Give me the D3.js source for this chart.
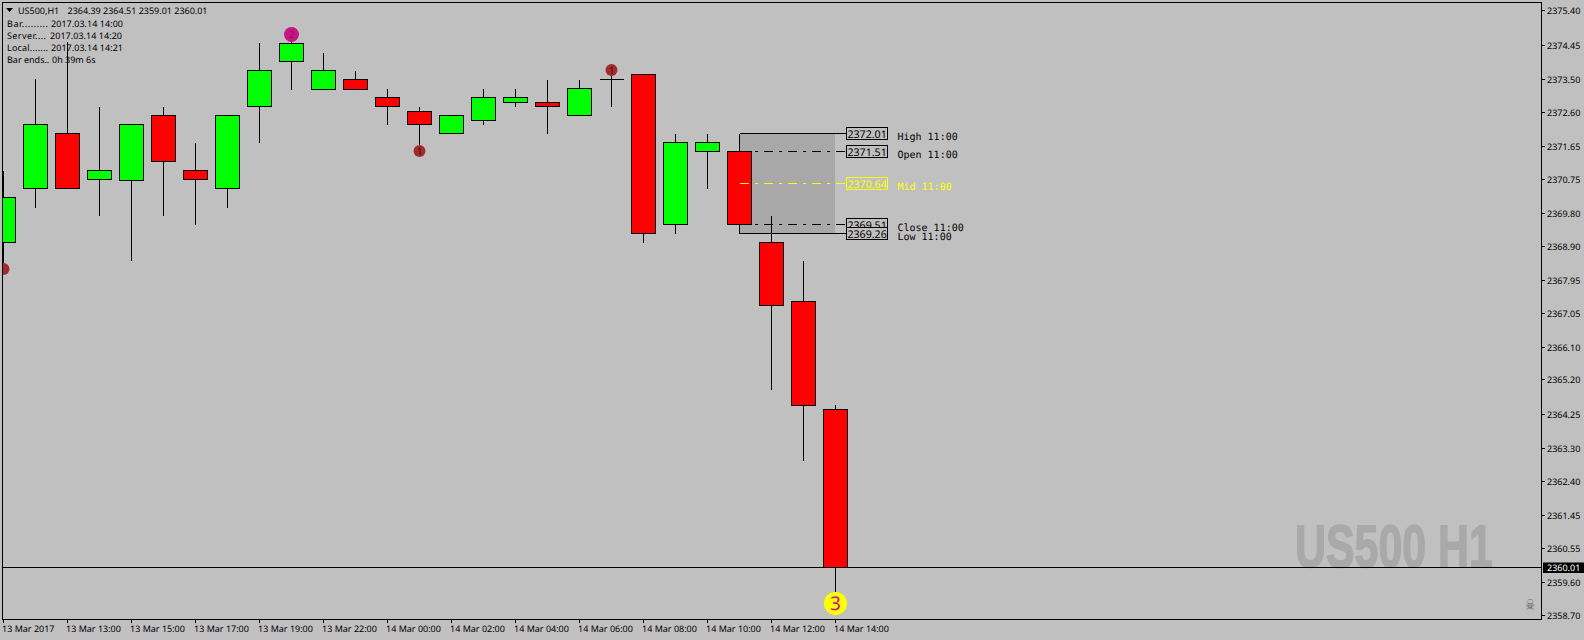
<!DOCTYPE html>
<html><head><meta charset="utf-8">
<script src="https://cdn.jsdelivr.net/npm/d3@7"></script>
<style>
html,body{margin:0;padding:0;background:#c0c0c0;overflow:hidden}
svg{display:block}
text{font-family:"Noto Sans",sans-serif;font-size:9px;fill:#000;text-rendering:geometricPrecision;white-space:pre}
.mono{font-family:"DejaVu Sans Mono",monospace;font-size:10px}
</style></head><body>
<svg id="c" width="1584" height="640"></svg>
<script>
const opens =[2369.00,2370.50,2372.01,2370.75,2370.72,2372.51,2371.00,2370.50,2372.76,2373.99,2373.24,2373.51,2373.01,2372.62,2372.01,2372.37,2372.87,2372.87,2372.51,2373.50,2373.65,2369.50,2371.51,2371.51,2369.00,2367.38,2364.39];
const highs =[2371.00,2373.53,2374.55,2372.76,2372.26,2372.76,2371.76,2372.51,2374.52,2374.75,2374.24,2373.76,2373.26,2372.76,2372.51,2373.26,2373.26,2373.51,2373.51,2373.90,2373.65,2372.01,2372.01,2372.01,2369.75,2368.51,2364.51];
const lows  =[2368.30,2369.97,2370.50,2369.75,2368.49,2369.75,2369.50,2369.97,2371.76,2373.24,2373.24,2373.24,2372.26,2371.51,2372.01,2372.26,2372.76,2372.01,2372.51,2372.75,2369.00,2369.25,2370.50,2369.26,2364.95,2362.97,2359.01];
const closes=[2370.25,2372.26,2370.50,2371.00,2372.26,2371.25,2370.75,2372.51,2373.74,2374.49,2373.76,2373.24,2372.76,2372.26,2372.51,2373.01,2373.01,2372.76,2373.26,2373.50,2369.25,2371.76,2371.76,2369.51,2367.26,2364.50,2360.01];
const priceTicks=["2375.40","2374.45","2373.50","2372.60","2371.65","2370.75","2369.80","2368.90","2367.95","2367.05","2366.10","2365.20","2364.25","2363.30","2362.40","2361.45","2360.55","2359.60","2358.70"];
const timeBars=[0,2,4,6,8,10,12,14,16,18,20,22,24,26];
const timeLabels=["13 Mar 2017","13 Mar 13:00","13 Mar 15:00","13 Mar 17:00","13 Mar 19:00","13 Mar 22:00","14 Mar 00:00","14 Mar 02:00","14 Mar 04:00","14 Mar 06:00","14 Mar 08:00","14 Mar 10:00","14 Mar 12:00","14 Mar 14:00"];
const levelNames=["High 11:00","Open 11:00","Mid 11:00","Close 11:00","Low 11:00"];
const levelValues=[2372.01,2371.51,2370.64,2369.51,2369.26];
const levelColors=["#000","#000","#ffff00","#000","#000"];
const levelDash=[null,"9,6,3,6","9,6,3,6","9,6,3,6",null];
const markerBars=[0,9,13,19,26];
const markerPrices=[2368.26,2374.74,2371.52,2373.76,2359.02];
const markerText=["1","2","1","1","3"];
const headerPrefix=["Bar.........","Server....","Local......."];
const headerDates=["2017.03.14 14:00","2017.03.14 14:20","2017.03.14 14:21"];
const barEnds=["Bar ends..","0h 39m 6s"];
const lastPrice=2360.01;

const L=2.5,R=1541.5,T=2.5,B=619.5;
const svg=d3.select("#c");
const x=d3.scaleLinear().domain([0,26]).range([3.5,835.5]);
const yRaw=d3.scaleLinear().domain([2358.59,2375.64]).range([619,2]);
const y=p=>Math.floor(yRaw(p)+0.2)+0.5;

svg.append("defs").append("clipPath").attr("id","plot").append("rect")
  .attr("x",L).attr("y",T).attr("width",R-L).attr("height",B-T);
const plot=svg.append("g").attr("clip-path","url(#plot)");

// watermark
plot.append("text").attr("transform","translate(1295,567) scale(0.715,1)").text("US500 H1")
  .style("font-family","'Liberation Sans',sans-serif").style("font-weight","bold")
  .style("font-size","60px").style("fill","#a9a9a9").style("stroke","#a9a9a9").style("stroke-width","1.5px");
// skull
plot.append("text").attr("transform","translate(1530,610) scale(0.72,1)").attr("text-anchor","middle").text("\u2620")
  .style("font-family","'DejaVu Sans'").style("font-size","15px").style("fill","#666");

// session box
const bx0=x(23), bx1=x(26)-0.5;
plot.append("rect").attr("x",bx0).attr("y",y(levelValues[0]))
  .attr("width",bx1-bx0).attr("height",y(levelValues[4])-y(levelValues[0]))
  .attr("fill","#a8a8a8");

// current price line
plot.append("line").attr("x1",L).attr("x2",R).attr("y1",y(lastPrice)).attr("y2",y(lastPrice)).attr("stroke","#000").attr("shape-rendering","crispEdges");

// candles
const idx=d3.range(opens.length);
const crisp=plot.append("g").attr("shape-rendering","crispEdges");
crisp.selectAll("line.w").data(idx).join("line").attr("class","w")
  .attr("x1",i=>x(i)).attr("x2",i=>x(i)).attr("y1",i=>y(highs[i])).attr("y2",i=>y(lows[i])+0.5).attr("stroke","#000");
crisp.selectAll("path.b").data(idx).join("path").attr("class","b")
  .attr("d",i=>{
    const p=d3.path(), t=y(Math.max(opens[i],closes[i])), b=y(Math.min(opens[i],closes[i]));
    p.rect(x(i)-12,t,24,b-t); return p.toString();
  })
  .attr("fill",i=>closes[i]>=opens[i]?"#00ff00":"#ff0000")
  .attr("stroke","#000");

// markers
const mColors=["#a52a2a","#c71585","#a52a2a","#a52a2a","#ffff00"];
const mR=[6,7.5,6,6,11.5];
const mText=["#a52a2a","#8a1a3a","#222","#222","#c71585"];
const mSize=[10,10,10,10,19];
markerBars.forEach((b,i)=>{
  const g=plot.append("g");
  const cy=yRaw(markerPrices[i]);
  g.append("circle").attr("cx",x(b)).attr("cy",cy).attr("r",mR[i]).attr("fill",mColors[i]);
  g.append("text").attr("x",x(b)).attr("y",cy+mSize[i]*0.36).attr("text-anchor","middle").text(markerText[i])
    .style("font-size",mSize[i]+"px").style("fill",mText[i]);
});

// level lines
const lv=svg.append("g");
levelValues.forEach((v,i)=>{
  lv.append("line").attr("x1",bx0).attr("x2",846.5).attr("y1",y(v)).attr("y2",y(v))
    .attr("stroke",levelColors[i]).attr("stroke-dasharray",levelDash[i]).attr("shape-rendering","crispEdges");
});
levelValues.forEach((v,i)=>{
  lv.append("rect").attr("x",846.5).attr("y",y(v)-6).attr("width",41).attr("height",12)
    .attr("fill","#c0c0c0").attr("stroke",levelColors[i]).attr("shape-rendering","crispEdges");
  lv.append("text").attr("x",847.5).attr("y",y(v)+4.5).text(v.toFixed(2))
    .style("font-size","10.6px").style("fill",levelColors[i]);
});
levelNames.forEach((n,i)=>{
  lv.append("text").attr("class","mono").attr("x",897.5).attr("y",y(levelValues[i])+6)
    .text(n).style("fill",levelColors[i]);
});

// frame
svg.append("rect").attr("x",L).attr("y",T).attr("width",R-L).attr("height",B-T)
  .attr("fill","none").attr("stroke","#000").attr("shape-rendering","crispEdges");

// price axis
const pa=svg.append("g");
priceTicks.forEach(t=>{
  const py=y(+t);
  pa.append("line").attr("x1",R).attr("x2",R+3).attr("y1",py).attr("y2",py).attr("stroke","#000").attr("shape-rendering","crispEdges");
  pa.append("text").attr("x",1547).attr("y",py+3.5).text(t);
});
pa.append("rect").attr("x",1543).attr("y",y(lastPrice)-5).attr("width",41).attr("height",10.5).attr("fill","#000");
pa.append("text").attr("x",1547).attr("y",y(lastPrice)+3.5).text(lastPrice.toFixed(2)).style("fill","#fff");

// time axis
const ta=svg.append("g");
timeBars.forEach((b,i)=>{
  ta.append("line").attr("x1",x(b)).attr("x2",x(b)).attr("y1",B).attr("y2",B+3).attr("stroke","#000").attr("shape-rendering","crispEdges");
  ta.append("text").attr("x",i==0?2:x(b)-1.5).attr("y",632).text(timeLabels[i]);
});

// header
svg.append("path").attr("d",d3.line()([[6,8],[13,8],[9.5,12]])+"Z").attr("fill","#000");
svg.append("text").attr("x",18).attr("y",14).text("US500,H1");
svg.append("text").attr("x",67.5).attr("y",14).text("2364.39 2364.51 2359.01 2360.01")
  .attr("textLength",140).attr("lengthAdjust","spacing");
const prefixW=[41,39,41];
const dateX=[51,50,51];
headerPrefix.forEach((t,i)=>{
  const ty=26.5+i*12.2;
  svg.append("text").attr("x",7).attr("y",ty).text(t).attr("textLength",prefixW[i]).attr("lengthAdjust","spacing");
  svg.append("text").attr("x",dateX[i]).attr("y",ty).text(headerDates[i]).attr("textLength",72).attr("lengthAdjust","spacing");
});
svg.append("text").attr("x",7).attr("y",26.5+3*12.2).text(barEnds[0]);
svg.append("text").attr("x",52).attr("y",26.5+3*12.2).text(barEnds[1]);
</script></body></html>
